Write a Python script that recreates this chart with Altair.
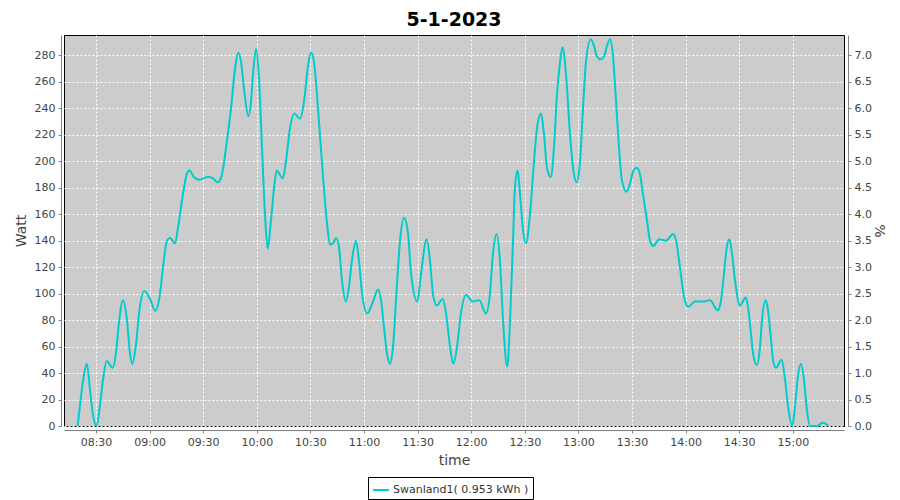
import altair as alt
import pandas as pd

title_text = "5-1-2023"
series_name = "Swanland1( 0.953 kWh )"

times = [
    "08:19:40", "08:21:00", "08:22:50", "08:24:50", "08:26:40", "08:28:20", "08:30:20", "08:32:10",
    "08:33:55", "08:36:00", "08:39:20", "08:41:10", "08:42:50", "08:45:05", "08:47:20", "08:49:00",
    "08:50:20", "08:52:25", "08:54:05", "08:57:00", "09:00:15", "09:03:10", "09:05:50", "09:07:30",
    "09:09:45", "09:11:25", "09:14:15", "09:15:55", "09:18:40", "09:20:45", "09:22:15", "09:24:50",
    "09:27:40", "09:32:40", "09:35:30", "09:38:05", "09:40:30", "09:42:45", "09:45:35", "09:47:50",
    "09:49:40", "09:51:10", "09:52:50", "09:55:15", "09:56:45", "09:57:50", "09:59:35", "10:01:15",
    "10:02:55", "10:04:35", "10:06:05", "10:07:55", "10:09:40", "10:11:10", "10:14:30", "10:16:20",
    "10:18:35", "10:21:00", "10:24:10", "10:26:25", "10:28:40", "10:30:20", "10:32:00", "10:34:15",
    "10:37:15", "10:39:10", "10:41:00", "10:42:40", "10:44:20", "10:46:00", "10:47:40", "10:49:55",
    "10:51:35", "10:53:15", "10:55:30", "10:57:10", "10:58:55", "11:01:50", "11:04:30", "11:08:00",
    "11:09:30", "11:11:10", "11:12:50", "11:14:35", "11:16:15", "11:17:55", "11:20:10", "11:22:25",
    "11:24:40", "11:26:20", "11:29:50", "11:31:55", "11:35:05", "11:36:55", "11:38:35", "11:40:40",
    "11:44:05", "11:45:55", "11:48:10", "11:50:00", "11:52:05", "11:54:15", "11:57:05", "12:00:50",
    "12:04:30", "12:08:15", "12:10:30", "12:12:10", "12:14:15", "12:16:05", "12:17:50", "12:20:10",
    "12:21:45", "12:23:25", "12:24:30", "12:26:00", "12:27:20", "12:29:00", "12:30:40", "12:32:55",
    "12:35:10", "12:36:50", "12:39:05", "12:40:45", "12:42:25", "12:44:30", "12:46:20", "12:48:00",
    "12:49:45", "12:51:05", "12:53:05", "12:55:20", "12:57:00", "12:59:05", "13:00:55", "13:02:35",
    "13:04:15", "13:06:55", "13:08:45", "13:10:25", "13:12:30", "13:14:20", "13:16:00", "13:17:40",
    "13:19:20", "13:21:05", "13:22:45", "13:24:25", "13:27:00", "13:28:55", "13:30:35", "13:32:40",
    "13:34:30", "13:36:10", "13:38:25", "13:40:05", "13:41:55", "13:45:15", "13:49:00", "13:53:05",
    "13:54:40", "13:56:50", "13:59:05", "14:01:30", "14:05:15", "14:09:55", "14:13:40", "14:18:00",
    "14:19:50", "14:21:30", "14:22:35", "14:24:30", "14:26:00", "14:27:40", "14:30:25", "14:33:40",
    "14:34:55", "14:36:35", "14:37:45", "14:39:50", "14:41:40", "14:42:45", "14:44:50", "14:46:05",
    "14:47:50", "14:48:55", "14:50:35", "14:53:45", "14:55:40", "14:57:20", "14:59:45", "15:01:15",
    "15:02:55", "15:04:35", "15:06:15", "15:07:55", "15:09:40", "15:13:35", "15:15:15", "15:17:05",
    "15:18:35", "15:19:55",
]

watts = [
    0, 15, 35, 47, 27, 8, 0, 15,
    35, 49, 44, 55, 78, 95, 80, 55,
    47, 62, 85, 102, 96, 87, 100, 120,
    140, 142, 138, 150, 175, 190, 193, 188,
    186, 188, 187, 184, 190, 210, 240, 270,
    282, 275, 255, 234, 245, 265, 285, 262,
    210, 160, 134, 155, 180, 193, 187, 200,
    225, 236, 232, 245, 272, 282, 275, 240,
    185, 155, 137, 138, 142, 135, 110, 94,
    105, 125, 140, 125, 100, 85, 92, 103,
    95, 75, 55, 47, 60, 95, 140, 157,
    145, 115, 94, 115, 141, 125, 100, 91,
    96, 85, 60, 47, 60, 85, 99, 94,
    95, 85, 100, 130, 145, 125, 80, 45,
    80, 140, 180, 193, 175, 148, 138, 160,
    200, 225, 236, 220, 195, 188, 210, 250,
    275, 286, 265, 220, 195, 184, 200, 240,
    275, 292, 287, 279, 277, 279, 287, 292,
    280, 245, 210, 185, 177, 183, 192, 195,
    190, 175, 155, 140, 136, 141, 140, 145,
    140, 120, 98, 90, 94, 94, 95, 87.5,
    95, 115, 130, 141, 130, 110, 91, 97,
    90, 70, 55, 46, 60, 80, 95, 88,
    65, 50, 44, 50, 35, 15, 0, 15,
    38, 47, 35, 12, 0, 0, 1.5, 2.5,
    1.5, 0,
]

x_start = (8, 12, 5)
x_end = (15, 28, 40)
x_tick_times = [(8, 30), (9, 0), (9, 30), (10, 0), (10, 30), (11, 0), (11, 30), (12, 0),
                (12, 30), (13, 0), (13, 30), (14, 0), (14, 30), (15, 0)]
w_max = 295.3
watt_ticks = list(range(0, 281, 20))
pct_ticks = [i * 0.5 for i in range(15)]
line_color = "#00CCCC"

df = pd.DataFrame({
    "time": ["2023-05-01T" + t for t in times],
    "W": watts,
    "series": series_name,
})


def dt(h, m, s=0):
    return alt.DateTime(year=2023, month=5, date=1, hours=h, minutes=m, seconds=s)


x_enc = alt.X(
    "time:T",
    scale=alt.Scale(domain=[dt(*x_start), dt(*x_end)], nice=False),
    axis=alt.Axis(
        title="time", format="%H:%M", values=[dt(h, m) for h, m in x_tick_times],
        offset=4, labelPadding=3, titlePadding=6, labelFlush=False,
    ),
)

line = alt.Chart(df).mark_line(strokeWidth=2, interpolate="monotone").encode(
    x=x_enc,
    y=alt.Y(
        "W:Q",
        scale=alt.Scale(domain=[0, w_max], nice=False),
        axis=alt.Axis(title="Watt", values=watt_ticks, orient="left", offset=3,
                      labelPadding=3, titlePadding=6),
    ),
    color=alt.Color(
        "series:N",
        scale=alt.Scale(range=[line_color]),
        legend=alt.Legend(
            title=None, orient="none", legendX=304, legendY=442,
            strokeColor="black", fillColor="white", padding=4, cornerRadius=0,
            symbolType="stroke", symbolStrokeWidth=2, symbolSize=256,
            labelFontSize=11, labelColor="#333333", labelFont="DejaVu Sans", labelOffset=3,
        ),
    ),
)

pct_layer = alt.Chart(df).transform_calculate(pct="datum.W / 40").mark_line(opacity=0).encode(
    x=x_enc,
    y=alt.Y(
        "pct:Q",
        scale=alt.Scale(domain=[0, w_max / 40], nice=False),
        axis=alt.Axis(title="%", orient="right", values=pct_ticks, format=".1f", grid=False,
                      offset=4, labelPadding=3, titlePadding=0),
    ),
)

chart = (
    alt.layer(line, pct_layer)
    .resolve_scale(y="independent")
    .properties(
        width=780, height=391,
        autosize=alt.AutoSizeParams(type="none"),
        padding={"left": 56, "top": 27, "right": 48, "bottom": 74},
        title=alt.Title(title_text, fontSize=19, fontWeight="bold", font="DejaVu Sans",
                        color="black", anchor="middle", offset=5),
    )
    .configure(font="DejaVu Sans")
    .configure_view(fill="#CCCCCC", stroke="black", strokeWidth=1)
    .configure_axis(
        domainColor="#808080", tickColor="#808080", tickSize=3,
        labelColor="#444444", titleColor="#444444", labelFontSize=11, titleFontSize=14,
        titleFontWeight="normal", labelFont="DejaVu Sans", titleFont="DejaVu Sans",
        gridColor="white", gridDash=[2, 2], gridOpacity=1, gridWidth=1,
    )
)

chart.save("out.html", embed_options={"renderer": "svg", "actions": False})
